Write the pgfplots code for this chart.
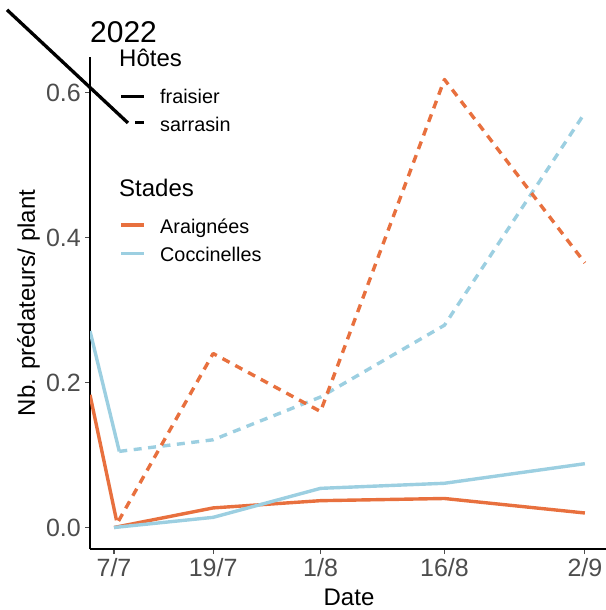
\documentclass[border=0pt]{standalone}
\usepackage{pgfplots}
\pgfplotsset{compat=1.18}
\usepackage{fontspec}
\setmainfont{Liberation Sans}

\definecolor{araig}{HTML}{E8703E}
\definecolor{cocci}{HTML}{9CCFE1}
\definecolor{tickgray}{HTML}{4D4D4D}

\begin{document}
\begin{tikzpicture}[x=1pt,y=1pt]
\useasboundingbox (0,0) rectangle (605,610);

\pgfplotsset{
  panel/.style={
    at={(90pt,61pt)}, anchor=south west,
    scale only axis, width=518pt, height=492pt,
    xmin=-2.906, xmax=59.8, ymin=-0.02966, ymax=0.649,
  },
}

\begin{axis}[
  panel,
  axis x line=bottom, axis y line=left,
  axis line style={-, black, line width=1.1pt},
  tick align=outside, major tick length=5pt,
  every tick/.style={tickgray, line width=1.1pt},
  xtick={0,12,25,40,57},
  xticklabels={7/7,19/7,1/8,16/8,2/9},
  ytick={0,0.2,0.4,0.6},
  yticklabels={0.0,0.2,0.4,0.6},
  ticklabel style={font=\fontsize{25}{30}\selectfont, text=tickgray, inner sep=0pt},
  xticklabel style={anchor=north, yshift=-4pt},
  yticklabel style={anchor=east, xshift=-4pt},
  xlabel={Date}, ylabel={Nb. prédateurs/ plant},
  every axis x label/.style={at={([yshift=-56pt]axis description cs:0.5,0)}, anchor=base,
    font=\fontsize{24}{28}\selectfont, inner sep=0pt},
  every axis y label/.style={at={([xshift=-55pt]axis description cs:0,0.5)}, anchor=base, rotate=90,
    font=\fontsize{24}{28}\selectfont, inner sep=0pt},
  every axis plot/.append style={line width=3.4pt, line cap=butt, line join=round},
]
% fraisier (solid)
\addplot[araig] coordinates {(-2.906,0.183) (0.3,0.010)};
\addplot[cocci] coordinates {(-2.906,0.271) (0.64,0.105)};
\addplot[araig] coordinates {(0,0) (12,0.027) (25,0.037) (40,0.040) (57,0.020)};
\addplot[cocci] coordinates {(0,0) (12,0.014) (25,0.054) (40,0.061) (57,0.088)};
% sarrasin (dashed)
\addplot[cocci, dash pattern=on 8pt off 6.5pt] coordinates {(0.64,0.105) (12,0.121) (25,0.180) (40,0.279) (57,0.572)};
\addplot[araig, dash pattern=on 8pt off 6.5pt] coordinates {(0.55,0.009) (12,0.240) (25,0.160) (40,0.618) (57,0.365)};
\end{axis}

% unclipped black segment over the panel
\begin{axis}[panel, hide axis, clip=false]
\addplot[black, line width=3.3pt, line cap=butt] coordinates {(-12.95,0.714) (1.69,0.558)};
\end{axis}

% title
\node[anchor=base west, inner sep=0pt, font=\fontsize{30}{34}\selectfont] at (90,567) {2022};

% legend: Hôtes
\node[anchor=base west, inner sep=0pt, font=\fontsize{24}{28}\selectfont] at (119,543) {Hôtes};
\draw[black, line width=3.3pt] (121,513.3) -- (144,513.3);
\node[anchor=base west, inner sep=0pt, font=\fontsize{19.8}{24}\selectfont] at (160,506) {fraisier};
\draw[black, line width=3.3pt, dash pattern=on 9pt off 14pt, dash phase=9pt] (121,487.5) -- (144,487.5);
\node[anchor=base west, inner sep=0pt, font=\fontsize{19.8}{24}\selectfont] at (160,478) {sarrasin};

% legend: Stades
\node[anchor=base west, inner sep=0pt, font=\fontsize{24}{28}\selectfont] at (119,413) {Stades};
\draw[araig, line width=3.3pt] (121,385) -- (144,385);
\node[anchor=base west, inner sep=0pt, font=\fontsize{19.8}{24}\selectfont] at (160,376) {Araignées};
\draw[cocci, line width=3.3pt] (121,356.7) -- (144,356.7);
\node[anchor=base west, inner sep=0pt, font=\fontsize{19.8}{24}\selectfont] at (160,348) {Coccinelles};
\end{tikzpicture}
\end{document}
